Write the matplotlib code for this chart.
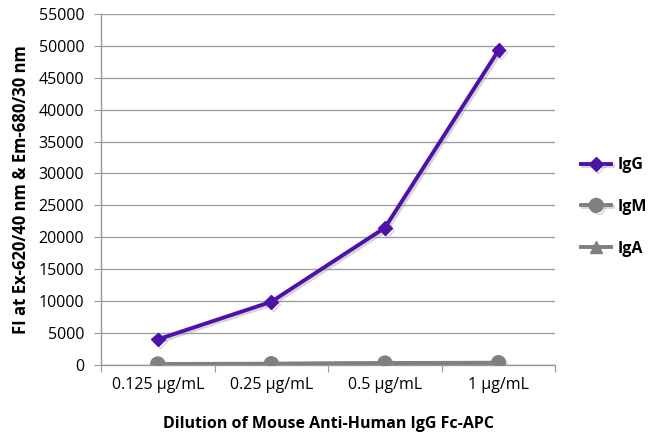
import matplotlib.pyplot as plt
import matplotlib.patheffects as pe

plt.rcParams['font.family'] = ['Open Sans', 'DejaVu Sans']

categories = ["0.125 µg/mL", "0.25 µg/mL", "0.5 µg/mL", "1 µg/mL"]
igg = [4000, 9900, 21500, 49300]
igm = [150, 200, 300, 350]
iga = [100, 150, 250, 300]
y_ticks = list(range(0, 55001, 5000))

fig = plt.figure(figsize=(6.51, 4.36), dpi=100)
ax = fig.add_axes([0.155, 0.163, 0.698, 0.805])

shadow = [pe.SimpleLineShadow(offset=(1.5, -1.5), shadow_color="#999999", alpha=0.4), pe.Normal()]
x = list(range(len(categories)))
ax.plot(x, igg, color="#4f12a8", lw=2.8, marker="D", ms=7, label="IgG", zorder=5,
        path_effects=shadow)
ax.plot(x, igm, color="#808080", lw=2.8, marker="o", ms=10, label="IgM", zorder=4,
        path_effects=shadow)
ax.plot(x, iga, color="#808080", lw=2.8, marker="^", ms=9, label="IgA", zorder=3)

ax.set_xlim(-0.5, 3.5)
ax.set_ylim(0, 55000)
ax.set_yticks(y_ticks)
ax.set_yticklabels([str(v) for v in y_ticks])
ax.set_xticks([-0.5, 0.5, 1.5, 2.5, 3.5], minor=False)
ax.set_xticklabels([])
ax.set_xticks(x, minor=True)
ax.set_xticklabels(categories, minor=True)
ax.tick_params(axis="x", which="minor", length=0, pad=9, labelsize=11.5)
ax.tick_params(axis="x", which="major", length=5, color="#999999", direction="out")
ax.tick_params(axis="y", length=5, color="#999999", labelsize=11.5, pad=7)
ax.grid(axis="y", color="#a0a0a0", lw=1)
ax.set_axisbelow(True)
for s in ["top", "right"]:
    ax.spines[s].set_visible(False)
for s in ["left", "bottom"]:
    ax.spines[s].set_color("#999999")
    ax.spines[s].set_linewidth(1)

ax.set_xlabel("Dilution of Mouse Anti-Human IgG Fc-APC", fontsize=11.5, fontweight="bold", labelpad=16)
ax.set_ylabel("FI at Ex-620/40 nm & Em-680/30 nm", fontsize=12, fontweight="bold", labelpad=6)

ax.legend(loc="center left", bbox_to_anchor=(1.025, 0.45), frameon=False,
          handlelength=1.9, handletextpad=0.4, labelspacing=1.6,
          prop={"weight": "bold", "size": 11.5})

fig.savefig("out.png", dpi=100)
